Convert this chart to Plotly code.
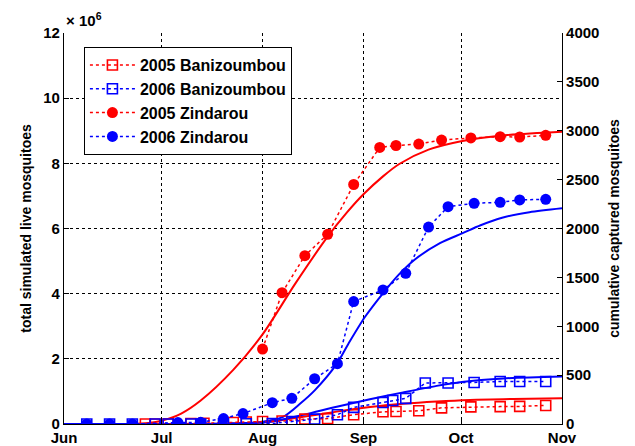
import plotly.graph_objects as go

# ---- tick labels ----
month_ticks = [0, 30, 61, 92, 122, 153]          # days since Jun 1
month_labels = ["Jun", "Jul", "Aug", "Sep", "Oct", "Nov"]

# ---- observed data (cumulative captured mosquitoes, right axis) ----
bani05_day = [25, 28, 32, 39, 43, 52, 56, 61, 67, 74, 81, 89, 98, 102, 109, 116, 125, 134, 140, 148]
bani05_val = [0, 0, 2, 5, 8, 15, 20, 25, 30, 50, 55, 95, 125, 128, 135, 165, 175, 178, 180, 190]

bani06_day = [7, 14, 21, 28, 32, 39, 42, 49, 56, 64, 70, 77, 84, 89, 98, 101, 105, 111, 118, 126, 134, 140, 148]
bani06_val = [0, 0, 0, 0, 0, 0, 0, 2, 3, 5, 25, 50, 95, 170, 220, 240, 262, 420, 420, 425, 435, 435, 435]

zind05_day = [61, 67, 74, 81, 89, 97, 102, 109, 116, 125, 134, 140, 148]
zind05_val = [767, 1343, 1722, 1941, 2450, 2829, 2849, 2864, 2905, 2926, 2939, 2936, 2953]

zind06_day = [7, 14, 21, 35, 42, 49, 55, 64, 70, 77, 84, 89, 98, 105, 112, 118, 126, 134, 140, 148]
zind06_val = [0, 0, 0, 15, 17, 56, 107, 218, 263, 463, 617, 1253, 1371, 1542, 2015, 2223, 2258, 2268, 2292, 2299]

# ---- simulated (total live mosquitoes, x 10^6, left axis) ----
m_zind05_day = [0, 20, 26, 30, 36, 42, 52, 61, 71, 81, 87, 92, 98, 103, 112, 122, 134, 153]
m_zind05_val = [0, 0, 0.03, 0.1, 0.32, 0.72, 1.66, 2.75, 4.3, 5.75, 6.5, 7.05, 7.6, 7.98, 8.42, 8.68, 8.85, 8.97]

m_zind06_day = [0, 45, 55, 61, 67.3, 72.5, 77.1, 83.9, 87.3, 92.5, 98.3, 103, 107.8, 115.5, 122.3, 128, 134.6, 143, 153]
m_zind06_val = [0, 0, 0.02, 0.07, 0.22, 0.62, 1.04, 1.86, 2.45, 3.29, 4.05, 4.6, 5.05, 5.55, 5.85, 6.1, 6.33, 6.5, 6.62]

m_bani05_day = [0, 40, 50, 57, 63.3, 73.5, 83.8, 94, 104.2, 114.5, 124.7, 138, 153]
m_bani05_val = [0, 0, 0.01, 0.03, 0.07, 0.22, 0.38, 0.52, 0.62, 0.69, 0.74, 0.77, 0.79]

m_bani06_day = [0, 40, 55, 63.3, 73.5, 83.8, 94, 104.2, 114.5, 122.2, 135, 153]
m_bani06_val = [0, 0, 0.02, 0.07, 0.28, 0.53, 0.76, 0.97, 1.17, 1.29, 1.4, 1.46]

RED = "rgb(255,0,0)"
BLUE = "rgb(0,0,255)"
FONT = "Liberation Sans, Arial, sans-serif"

fig = go.Figure()

# model curves (left axis)
for d, v, c in [(m_bani05_day, m_bani05_val, RED), (m_bani06_day, m_bani06_val, BLUE),
                (m_zind05_day, m_zind05_val, RED), (m_zind06_day, m_zind06_val, BLUE)]:
    fig.add_trace(go.Scatter(x=d, y=v, mode="lines", line=dict(color=c, width=2, shape="spline", smoothing=0.8),
                             showlegend=False, hoverinfo="skip", yaxis="y"))

# observations (right axis)
fig.add_trace(go.Scatter(x=bani05_day, y=bani05_val, name="2005 Banizoumbou", mode="lines+markers",
                         line=dict(color=RED, width=1.5, dash="dot"),
                         marker=dict(symbol="square-open", size=10, color=RED, line=dict(width=1.6)),
                         yaxis="y2"))
fig.add_trace(go.Scatter(x=bani06_day, y=bani06_val, name="2006 Banizoumbou", mode="lines+markers",
                         line=dict(color=BLUE, width=1.5, dash="dot"),
                         marker=dict(symbol="square-open", size=10, color=BLUE, line=dict(width=1.6)),
                         yaxis="y2"))
fig.add_trace(go.Scatter(x=zind05_day, y=zind05_val, name="2005 Zindarou", mode="lines+markers",
                         line=dict(color=RED, width=1.5, dash="dot"),
                         marker=dict(symbol="circle", size=11, color=RED),
                         yaxis="y2"))
fig.add_trace(go.Scatter(x=zind06_day, y=zind06_val, name="2006 Zindarou", mode="lines+markers",
                         line=dict(color=BLUE, width=1.5, dash="dot"),
                         marker=dict(symbol="circle", size=11, color=BLUE),
                         yaxis="y2"))

tickfont = dict(family=FONT, size=15, color="black", weight="bold")
titlefont = dict(family=FONT, size=14, color="black", weight="bold")

fig.update_layout(
    width=635, height=446,
    margin=dict(l=64, r=73, t=33, b=22),
    paper_bgcolor="white", plot_bgcolor="white",
    font=dict(family=FONT, color="black"),
    xaxis=dict(range=[0, 153], tickvals=month_ticks, ticktext=month_labels,
               showgrid=True, gridcolor="black", griddash="dot", gridwidth=1,
               ticks="inside", ticklen=5, tickcolor="black",
               showline=True, linecolor="black", linewidth=1.2, zeroline=False,
               tickfont=tickfont, automargin=False),
    yaxis=dict(range=[0, 12], dtick=2, showgrid=True, gridcolor="black", griddash="dot", gridwidth=1,
               ticks="inside", ticklen=5, tickcolor="black",
               showline=True, linecolor="black", linewidth=1.2, zeroline=False,
               tickfont=tickfont, automargin=False,
               title=dict(text="total simulated live mosquitoes", font=titlefont, standoff=8)),
    yaxis2=dict(range=[0, 4000], dtick=500, overlaying="y", side="right", showgrid=False,
                ticks="inside", ticklen=5, tickcolor="black",
                showline=True, linecolor="black", linewidth=1.2, zeroline=False,
                tickfont=tickfont, automargin=False,
                title=dict(text="cumulative captured mosquitoes", font=titlefont, standoff=10)),
    legend=dict(x=0.04, y=0.964, xanchor="left", yanchor="top",
                bgcolor="white", bordercolor="black", borderwidth=1,
                font=dict(family=FONT, size=16, color="black", weight="bold"),
                tracegroupgap=0, itemwidth=45),
    showlegend=True,
)

fig.add_annotation(text="× 10<sup>6</sup>", xref="paper", yref="paper", x=0, y=1,
                   xanchor="left", yanchor="bottom", showarrow=False, yshift=2,
                   font=dict(family=FONT, size=15, color="black", weight="bold"))

fig.write_html("out.html", post_script="document.body.style.margin='0px';",
               config={"displayModeBar": False})
